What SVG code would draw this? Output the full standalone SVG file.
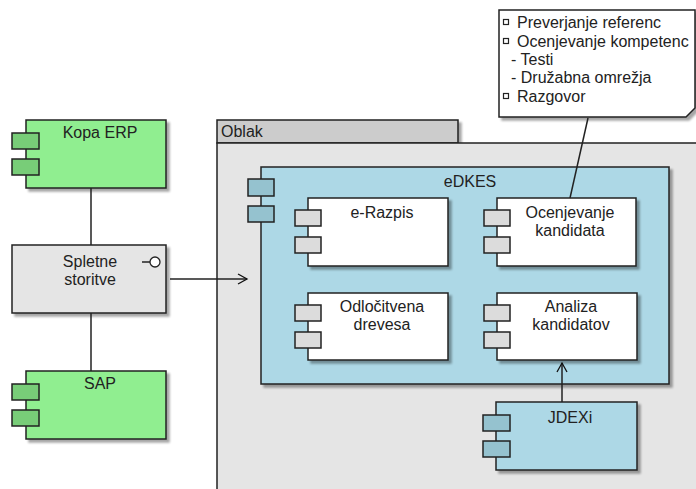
<svg xmlns="http://www.w3.org/2000/svg" width="696" height="489" viewBox="0 0 696 489">
<defs>
<filter id="sh" x="-10%" y="-10%" width="130%" height="130%">
<feDropShadow dx="3" dy="3" stdDeviation="1" flood-color="#000" flood-opacity="0.35"/>
</filter>
<marker id="arr" markerWidth="12" markerHeight="12" refX="10" refY="6" orient="auto" markerUnits="userSpaceOnUse">
<path d="M1,1 L10,6 L1,11" fill="none" stroke="#111" stroke-width="1.3"/>
</marker>
</defs>
<style>
text{font-family:"Liberation Sans",Arial,sans-serif;font-size:16px;fill:#222;text-anchor:middle}
.b{stroke:#222;stroke-width:1.5}
.green{fill:#90ee90}.gport{fill:#78cd78}
.gray{fill:#e5e5e5}
.blue{fill:#add8e6}.bport{fill:#95c2cf}
.white{fill:#fff}.wport{fill:#dcdcdc}
.c{stroke:#222;stroke-width:1.5;fill:none}
</style>
<g id="oblak">
<rect class="b" x="217" y="120" width="241" height="23" fill="#cccccc" filter="url(#sh)"/>
<rect class="b" x="217" y="143" width="485" height="352" fill="#e5e5e5"/>
<text x="221" y="137" style="text-anchor:start">Oblak</text>
</g>
<g id="kopa-erp">
<rect class="b green" x="26" y="120" width="140" height="68" filter="url(#sh)"/>
<rect class="b gport" x="12" y="133" width="27" height="16"/>
<rect class="b gport" x="12" y="159" width="27" height="16"/>
<text x="100" y="138">Kopa ERP</text>
</g>
<g id="spletne-storitve">
<rect class="b gray" x="12" y="245" width="154" height="68" filter="url(#sh)"/>
<line class="c" x1="142" y1="262" x2="150" y2="262"/>
<circle cx="155" cy="262" r="5" fill="#fff" stroke="#222" stroke-width="1.3"/>
<text x="90" y="267">Spletne</text>
<text x="90" y="285">storitve</text>
</g>
<g id="sap">
<rect class="b green" x="26" y="371" width="140" height="68" filter="url(#sh)"/>
<rect class="b gport" x="12" y="384" width="27" height="16"/>
<rect class="b gport" x="12" y="410" width="27" height="16"/>
<text x="100" y="389">SAP</text>
</g>
<g id="edkes">
<rect class="b blue" x="261" y="167" width="408" height="217" filter="url(#sh)"/>
<rect class="b bport" x="248" y="179" width="26" height="17"/>
<rect class="b bport" x="248" y="206" width="26" height="16"/>
<text x="470" y="187">eDKES</text>
</g>
<g id="e-razpis">
<rect class="b white" x="308" y="198" width="140" height="68" filter="url(#sh)"/>
<rect class="b wport" x="295" y="210" width="26" height="16"/>
<rect class="b wport" x="295" y="237" width="26" height="16"/>
<text x="382" y="218">e-Razpis</text>
</g>
<g id="ocenjevanje-kandidata">
<rect class="b white" x="497" y="198" width="139" height="68" filter="url(#sh)"/>
<rect class="b wport" x="484" y="210" width="26" height="16"/>
<rect class="b wport" x="484" y="237" width="26" height="16"/>
<text x="570" y="218">Ocenjevanje</text>
<text x="570" y="236">kandidata</text>
</g>
<g id="odlocitvena-drevesa">
<rect class="b white" x="308" y="293" width="140" height="67" filter="url(#sh)"/>
<rect class="b wport" x="295" y="305" width="26" height="16"/>
<rect class="b wport" x="295" y="332" width="26" height="16"/>
<text x="382" y="312">Odločitvena</text>
<text x="382" y="330">drevesa</text>
</g>
<g id="analiza-kandidatov">
<rect class="b white" x="497" y="293" width="140" height="67" filter="url(#sh)"/>
<rect class="b wport" x="484" y="305" width="26" height="16"/>
<rect class="b wport" x="484" y="332" width="26" height="16"/>
<text x="571" y="312">Analiza</text>
<text x="571" y="330">kandidatov</text>
</g>
<g id="jdexi">
<rect class="b blue" x="496" y="402" width="141" height="68" filter="url(#sh)"/>
<rect class="b bport" x="483" y="415" width="27" height="16"/>
<rect class="b bport" x="483" y="441" width="27" height="16"/>
<text x="570" y="423">JDEXi</text>
</g>
<g id="note">
<polygon class="b" points="499,10 695,10 695,108 686,117 499,117" fill="#fff" filter="url(#sh)"/>
<g fill="none" stroke="#222" stroke-width="1.2">
<rect x="503.5" y="19.5" width="5" height="5"/>
<rect x="503.5" y="38.5" width="5" height="5"/>
<rect x="503.5" y="93.5" width="5" height="5"/>
</g>
<text x="517" y="28" style="text-anchor:start">Preverjanje referenc</text>
<text x="517" y="47" style="text-anchor:start">Ocenjevanje kompetenc</text>
<text x="511" y="65" style="text-anchor:start">- Testi</text>
<text x="511" y="83" style="text-anchor:start">- Družabna omrežja</text>
<text x="517" y="102" style="text-anchor:start">Razgovor</text>
</g>
<g id="connectors">
<line class="c" x1="91" y1="188" x2="91" y2="245"/>
<line class="c" x1="91" y1="313" x2="91" y2="371"/>
<line class="c" x1="170" y1="279" x2="247" y2="279" marker-end="url(#arr)"/>
<line class="c" x1="562" y1="402" x2="562" y2="363" marker-end="url(#arr)"/>
<line class="c" x1="588" y1="118" x2="570" y2="198"/>
</g>
</svg>
